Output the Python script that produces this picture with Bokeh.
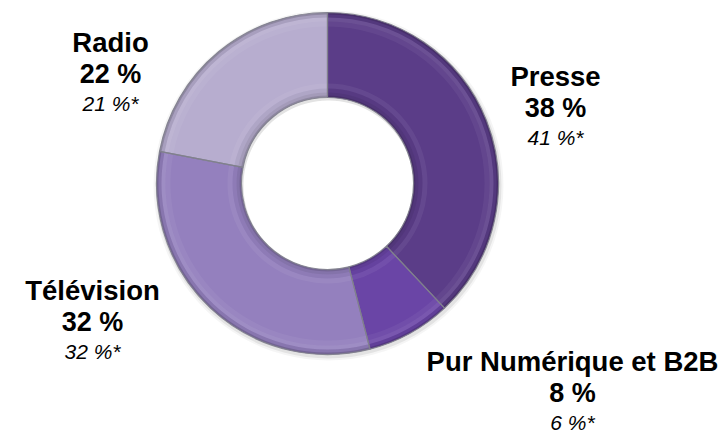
import math
from bokeh.plotting import figure
from bokeh.models import Range1d, ColumnDataSource
from bokeh.core.properties import value
from bokeh.embed import file_html
from bokeh.resources import INLINE

# ---- data ----
categories = ["Presse", "Pur Numérique et B2B", "Télévision", "Radio"]
shares = [38, 8, 32, 22]
prev_shares = [41, 6, 32, 21]
colors = ["#5b3d88", "#6a45a6", "#9480be", "#b7adcf"]

# ---- layout (page pixels) ----
W, H = 724, 438
def X(px):
    return px
def Y(py):
    return H - py

cx, cy = X(327), Y(183)
r_out, r_in = 171, 86

p = figure(width=W, height=H, output_backend="svg", toolbar_location=None,
           x_range=Range1d(0, W), y_range=Range1d(0, H), min_border=0)
p.axis.visible = False
p.grid.visible = False
p.outline_line_color = None
p.background_fill_color = "white"

total = sum(shares)
starts, ends = [], []
acc = 0
for s in shares:
    starts.append(math.pi / 2 - 2 * math.pi * acc / total)
    acc += s
    ends.append(math.pi / 2 - 2 * math.pi * acc / total)

src = ColumnDataSource(dict(x=[cx] * len(shares), y=[cy] * len(shares),
                            start=starts, end=ends, color=colors, name=categories))

# soft shadow
for dr, a in [(4, 0.04), (2, 0.07)]:
    p.annular_wedge(x=cx + 1, y=cy - 2, inner_radius=r_in - 1, outer_radius=r_out + dr,
                    start_angle=math.pi / 2, end_angle=math.pi / 2 - 2 * math.pi + 1e-6,
                    direction="clock", fill_color="#000000", fill_alpha=a, line_color=None)

# main slices
p.annular_wedge(x="x", y="y", inner_radius=r_in, outer_radius=r_out,
                start_angle="start", end_angle="end", direction="clock",
                fill_color="color", line_color=None, source=src)

def band(r0, r1, color, alpha):
    p.annular_wedge(x="x", y="y", inner_radius=r0, outer_radius=r1,
                    start_angle="start", end_angle="end", direction="clock",
                    fill_color=color, fill_alpha=alpha, line_color=None, source=src)

# bevel outer
band(r_out - 14, r_out - 9, "white", 0.05)
band(r_out - 9, r_out - 5, "white", 0.10)
band(r_out - 5, r_out - 2, "black", 0.08)
band(r_out - 2, r_out, "black", 0.22)
# bevel inner
band(r_in, r_in + 2, "black", 0.22)
band(r_in + 2, r_in + 5, "black", 0.10)
band(r_in + 5, r_in + 9, "black", 0.04)
band(r_in + 9, r_in + 14, "white", 0.06)

# separators
p.annular_wedge(x="x", y="y", inner_radius=r_in, outer_radius=r_out,
                start_angle="start", end_angle="end", direction="clock",
                fill_color=None, line_color="#80808c", line_width=1.2, line_alpha=0.9,
                source=src)

# ---- labels ----
label_cx = [555, 572, 92, 110]
label_base = [76, 361, 290, 42]
font = value("Liberation Sans")

name_x, name_y, name_t = [], [], []
cur_x, cur_y, cur_t = [], [], []
prv_x, prv_y, prv_t = [], [], []
for c, s, ps, lx, ly in zip(categories, shares, prev_shares, label_cx, label_base):
    name_x.append(X(lx)); name_y.append(Y(ly)); name_t.append(c)
    cur_x.append(X(lx)); cur_y.append(Y(ly + 31)); cur_t.append(f"{s} %")
    prv_x.append(X(lx)); prv_y.append(Y(ly + 61)); prv_t.append(f"{ps} %*")

p.text(x=name_x, y=name_y, text=name_t, text_font=font, text_font_size="27.5px",
       text_font_style="bold", text_align="center", text_baseline="alphabetic",
       text_color="#000000")
p.text(x=cur_x, y=cur_y, text=cur_t, text_font=font, text_font_size="27px",
       text_font_style="bold", text_align="center", text_baseline="alphabetic",
       text_color="#000000")
p.text(x=prv_x, y=prv_y, text=prv_t, text_font=font, text_font_size="21px",
       text_font_style="italic", text_align="center", text_baseline="alphabetic",
       text_color="#000000")

open("out.html", "w").write(file_html(p, INLINE))
